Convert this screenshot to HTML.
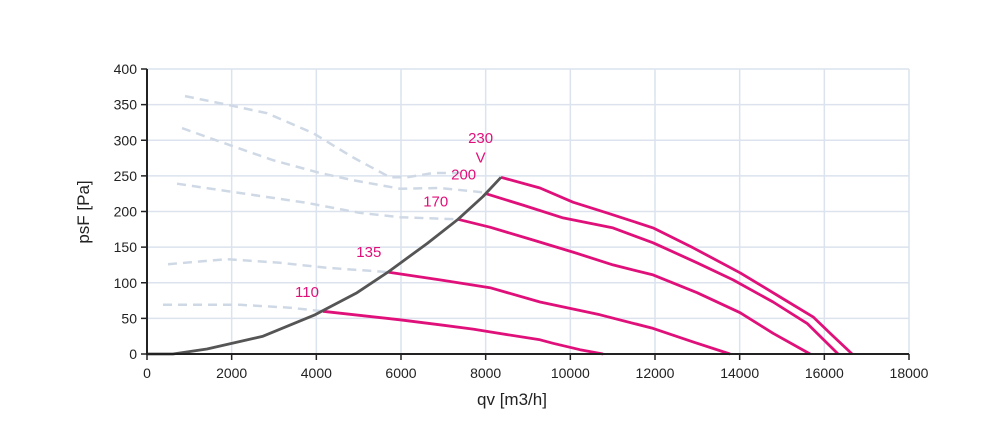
<!DOCTYPE html>
<html><head><meta charset="utf-8"><style>
body{margin:0;background:#fff}
svg{display:block;font-family:"Liberation Sans",Arial,sans-serif}
</style></head><body>
<svg id="chart" width="1000" height="430" viewBox="0 0 1000 430" xmlns="http://www.w3.org/2000/svg">
<g id="grid"></g>
<g id="dashed"></g>
<g id="curves"></g>
<g id="axes"></g>
<g id="labels"></g>
<text x="512" y="405" font-size="17" text-anchor="middle" fill="#222">qv [m3/h]</text>
<text transform="translate(89,212) rotate(-90)" font-size="17" text-anchor="middle" fill="#222">psF [Pa]</text>
</svg>
<script>
const xTicks=[0,2000,4000,6000,8000,10000,12000,14000,16000,18000];
const yTicks=[0,50,100,150,200,250,300,350,400];
const q230=[8363,9284,10064,10868,11954,12899,14010,14955,15734,16136,16656];
const p230=[248,233,213,198,177,149,114,80,52,29,0];
const q200=[8009,8883,9828,11009,11954,12994,13844,14789,15593,16325];
const p200=[225,209,191,177,156,128,104,73,43,0];
const q170=[7347,8103,9119,10064,11009,11954,12994,14010,14789,15664];
const p170=[189,178,160,143,125,111,86,58,29,0];
const q135=[5694,6922,8103,9284,10702,11954,12899,13774];
const p135=[115,104,93,73,55,36,17,0];
const q110=[4158,5977,6922,7702,8103,9284,9592,10229,10773];
const p110=[60,48,41,35,31,20,15,6,0];
const qSys=[0,614,1418,2740,3969,4961,5694,6615,7347,7938,8363];
const pSys=[0,0,7,25,55,86,115,155,189,221,248];
const qD1=[898,1961,2835,3922,4867,5741,6143,6757,7395];
const pD1=[362,349,338,310,276,248,248,254,254];
const qD2=[827,1961,2977,4087,4867,5977,6922,7938];
const pD2=[317,293,272,254,244,232,233,227];
const qD3=[709,2197,3780,5032,5977,7324];
const pD3=[239,226,212,198,192,189];
const qD4=[496,1890,3142,4252,5694];
const pD4=[126,133,128,121,115];
const qD5=[378,2197,3378,4158];
const pD5=[69,69,65,60];
const labelText=["230","V","200","170","135","110"];
const labelQ=[7880,7880,7480,6820,5240,3780];
const labelP=[296,269,245,207,136,80];

const X0=147,X1=909,Y0=354,Y1=69;
const sx=q=>X0+q/18000*(X1-X0);
const sy=p=>Y0-p/400*(Y0-Y1);
const NS="http://www.w3.org/2000/svg";
function mk(tag,parent,attrs){const e=document.createElementNS(NS,tag);for(const k in attrs)e.setAttribute(k,attrs[k]);parent.appendChild(e);return e;}
const grid=document.getElementById('grid'),axes=document.getElementById('axes');
xTicks.forEach(t=>{
  const l=mk('line',grid,{x1:sx(t),x2:sx(t),y1:Y1,y2:Y0,stroke:'#dce3ee','stroke-width':1.5});
  
  
  const tk=mk('line',axes,{x1:sx(t),x2:sx(t),y1:Y0,y2:Y0+6,stroke:'#222','stroke-width':1.5});
  
  
  const tx=mk('text',axes,{x:sx(t),y:Y0+24,'font-size':14,'text-anchor':'middle',fill:'#222'});
  tx.textContent=t;
  
  
});
yTicks.forEach(t=>{
  const l=mk('line',grid,{x1:X0,x2:X1,y1:sy(t),y2:sy(t),stroke:'#dce3ee','stroke-width':1.5});
  
  
  const tk=mk('line',axes,{x1:X0-6,x2:X0,y1:sy(t),y2:sy(t),stroke:'#222','stroke-width':1.5});
  
  
  const tx=mk('text',axes,{x:X0-10,y:sy(t)+5,'font-size':14,'text-anchor':'end',fill:'#222'});
  tx.textContent=t;
  
  
});
const ax=mk('path',axes,{d:`M${X0},${Y1}V${Y0}H${X1}`,fill:'none',stroke:'#222','stroke-width':2});


function pts(q,p){return q.map((v,i)=>sx(v).toFixed(1)+','+sy(p[i]).toFixed(1)).join(' ');}
const dg=document.getElementById('dashed');
[[qD1,pD1],[qD2,pD2],[qD3,pD3],[qD4,pD4],[qD5,pD5]].forEach((d,i)=>{
  const e=mk('polyline',dg,{points:pts(d[0],d[1]),fill:'none',stroke:'#cfd9e6','stroke-width':2.5,'stroke-dasharray':'9,6'});
  
  
});
const cg=document.getElementById('curves');
[[q230,p230,'230v'],[q200,p200,'200v'],[q170,p170,'170v'],[q135,p135,'135v'],[q110,p110,'110v']].forEach(d=>{
  const e=mk('polyline',cg,{points:pts(d[0],d[1]),fill:'none',stroke:'#e0107a','stroke-width':2.8,'stroke-linejoin':'round'});
  
  
});
const sys=mk('polyline',cg,{points:pts(qSys,pSys),fill:'none',stroke:'#555','stroke-width':2.8,'stroke-linejoin':'round'});


const lg=document.getElementById('labels');
labelText.forEach((t,i)=>{
  const e=mk('text',lg,{x:sx(labelQ[i]),y:sy(labelP[i]),'font-size':15,'text-anchor':'middle',fill:'#e0107a'});
  e.textContent=t;
  
  
});
</script>
</body></html>
